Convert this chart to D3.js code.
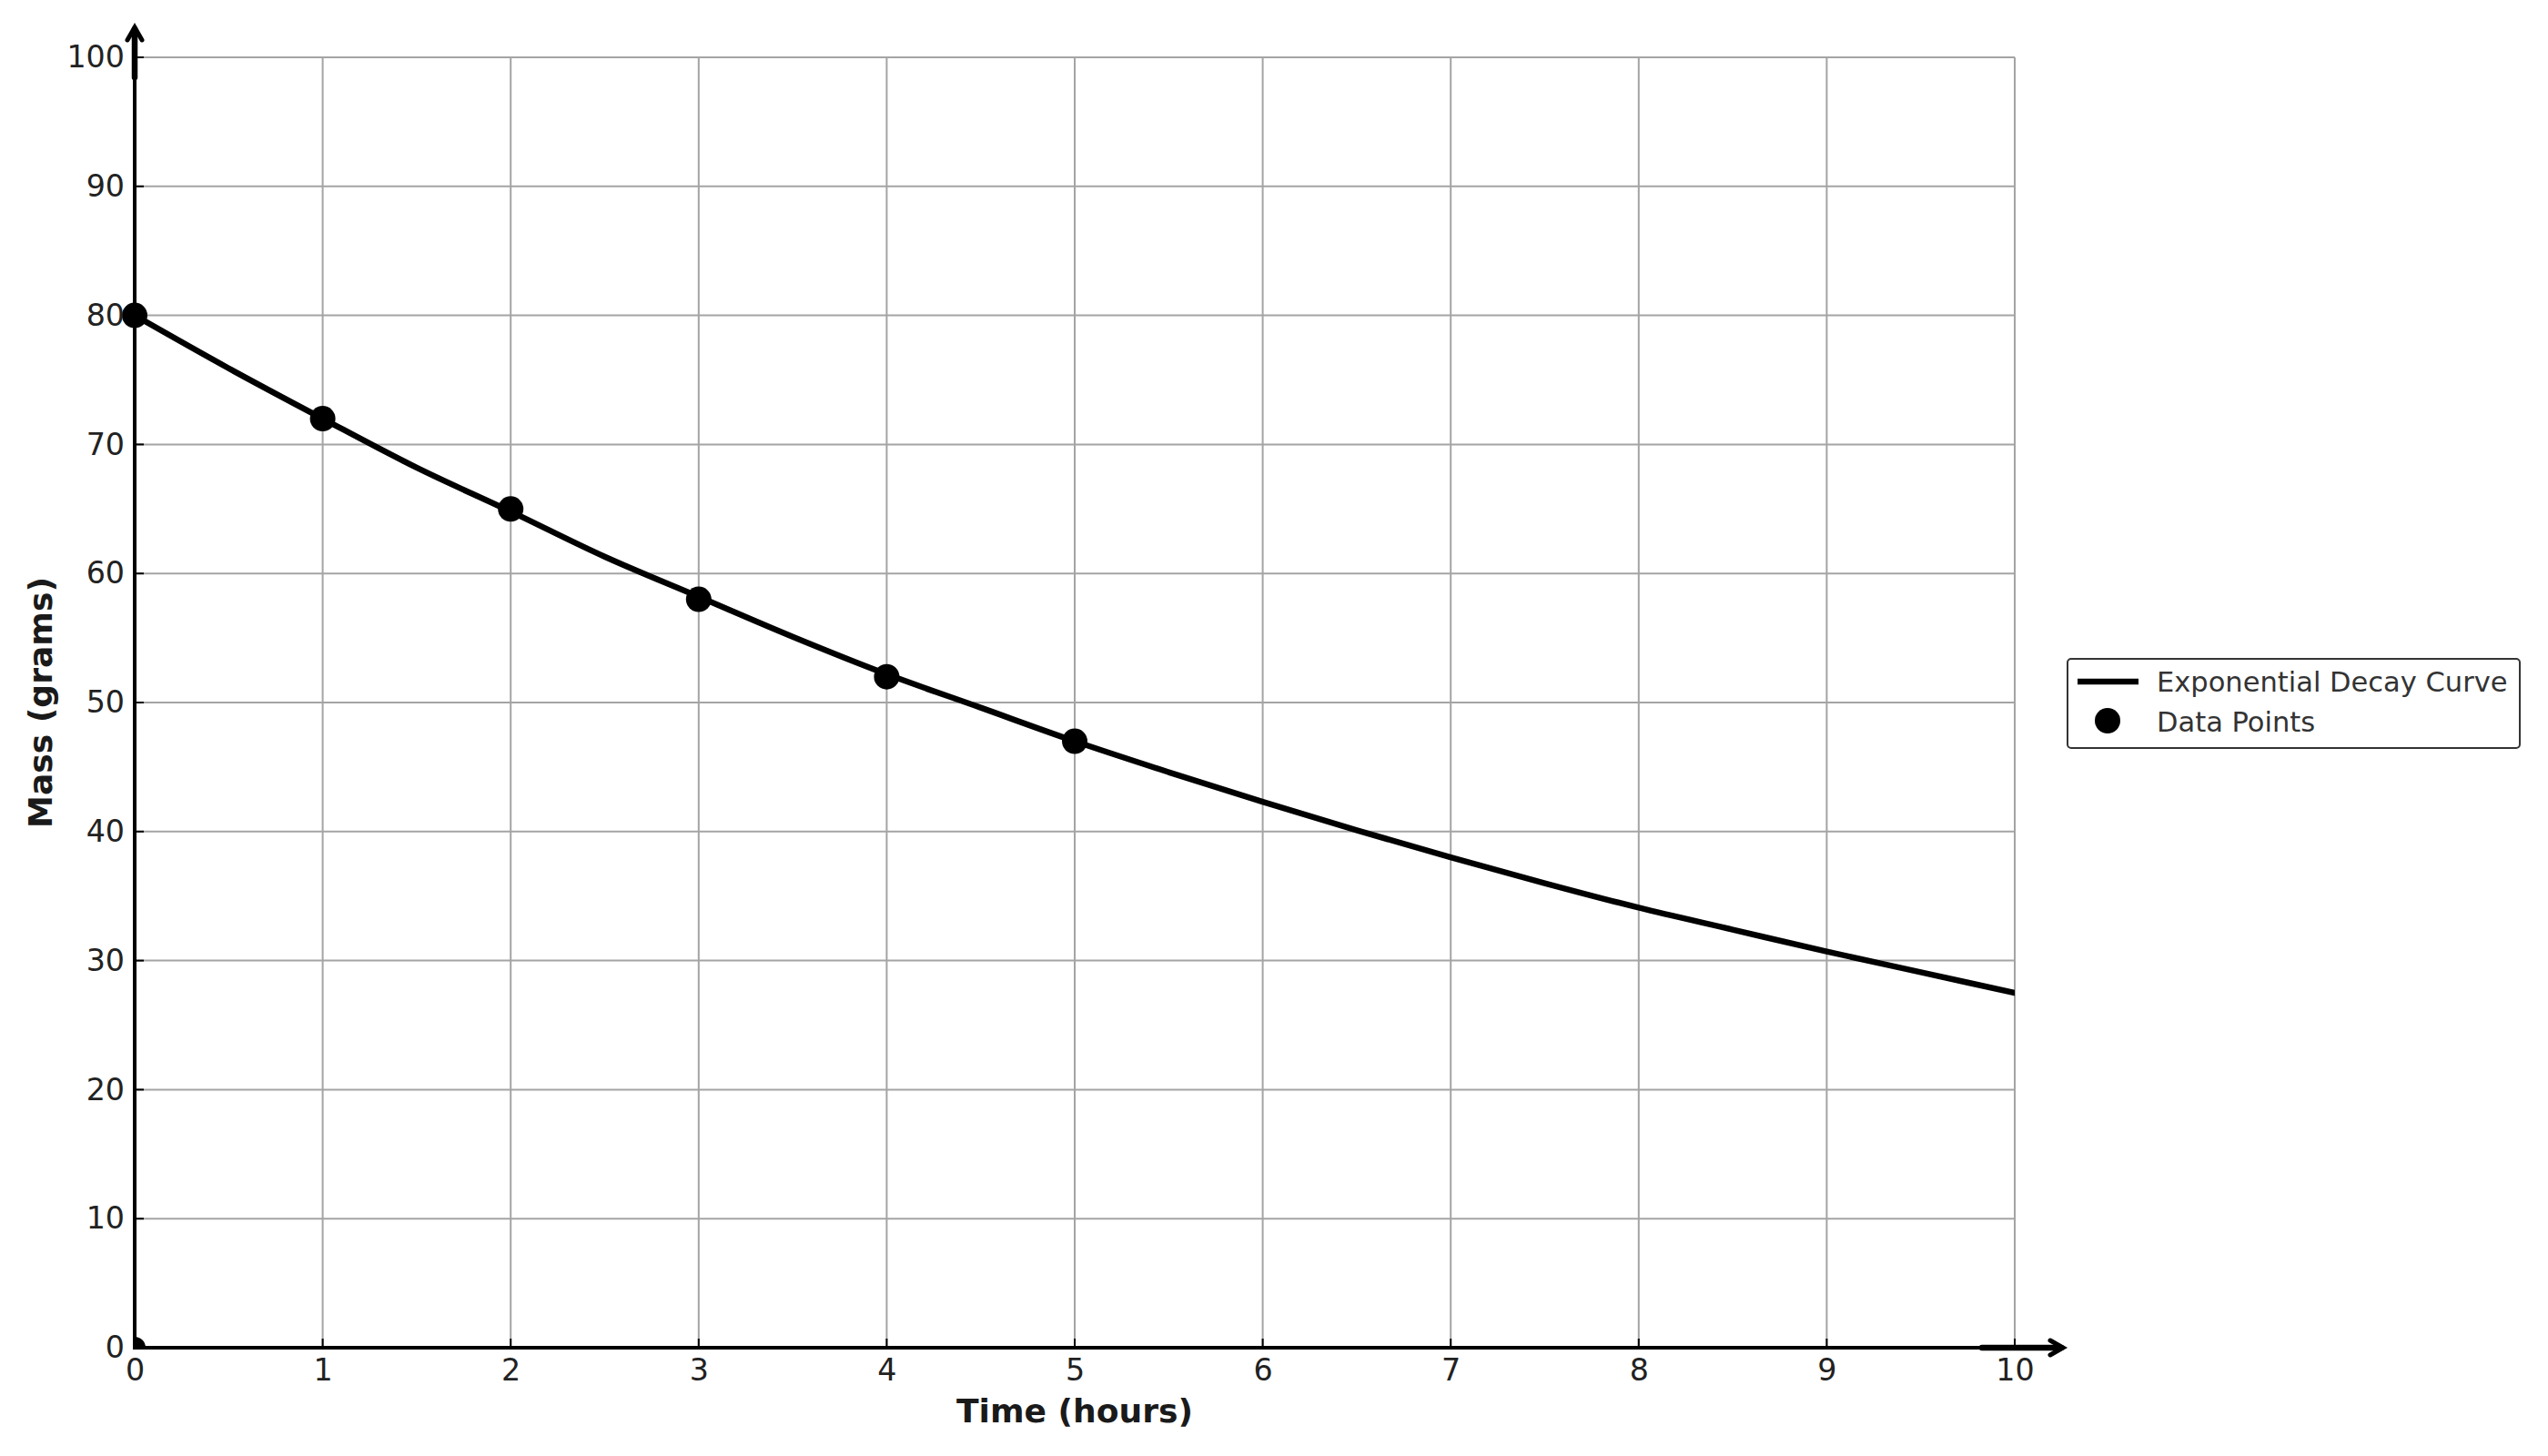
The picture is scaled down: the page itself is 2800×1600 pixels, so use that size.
<!DOCTYPE html>
<html>
<head>
<meta charset="utf-8">
<script src="https://cdn.jsdelivr.net/npm/d3@7"></script>
<style>
  html, body { margin: 0; padding: 0; background: #ffffff; }
  svg { display: block; }
  text { font-family: "DejaVu Sans", sans-serif; }
</style>
</head>
<body>
<svg id="chart" width="2800" height="1600"></svg>
<script>
// ---- data ----
const dataTimes = [0, 1, 2, 3, 4, 5];
const dataMass = [80, 72, 65, 58, 52, 47];
const curveTimes = [0, 0.5, 1, 1.5, 2, 2.5, 3, 3.5, 4, 4.5, 5, 5.5, 6, 6.5, 7, 7.5, 8, 8.5, 9, 9.5, 10];
const curveMass = [80, 75.9, 72, 68.2, 64.8, 61.3, 58.2, 55.1, 52.2, 49.6, 47, 44.6, 42.3, 40.1, 38, 36, 34.1, 32.4, 30.7, 29.1, 27.5];
const xTicks = [0, 1, 2, 3, 4, 5, 6, 7, 8, 9, 10];
const yTicks = [0, 10, 20, 30, 40, 50, 60, 70, 80, 90, 100];
const xLabel = "Time (hours)";
const yLabel = "Mass (grams)";
const legendLabels = ["Exponential Decay Curve", "Data Points"];

// ---- layout ----
const L = 148, R = 2214, T = 63, B = 1481;
const svg = d3.select("#chart");
const x = d3.scaleLinear().domain([0, 10]).range([L, R]);
const y = d3.scaleLinear().domain([0, 100]).range([B, T]);

// grid
const grid = svg.append("g");
grid.selectAll("line.gx").data(xTicks).join("line")
  .attr("x1", d => x(d)).attr("x2", d => x(d))
  .attr("y1", T).attr("y2", B)
  .attr("stroke", "#a4a4a4").attr("stroke-width", 2);
grid.selectAll("line.gy").data(yTicks).join("line")
  .attr("x1", L).attr("x2", R)
  .attr("y1", d => y(d)).attr("y2", d => y(d))
  .attr("stroke", "#a4a4a4").attr("stroke-width", 2);

// clip for data
svg.append("clipPath").attr("id", "clip")
  .append("rect").attr("x", L).attr("y", T).attr("width", R - L).attr("height", B - T);

// origin clipped dot
svg.append("circle").attr("clip-path", "url(#clip)")
  .attr("cx", x(0)).attr("cy", y(0)).attr("r", 12).attr("fill", "#000");

// curve
const line = d3.line().x((d, i) => x(curveTimes[i])).y(d => y(d)).curve(d3.curveMonotoneX);
svg.append("path").datum(curveMass)
  .attr("d", line).attr("fill", "none").attr("stroke", "#000")
  .attr("stroke-width", 6.5).attr("stroke-linejoin", "round").attr("stroke-linecap", "square")
  .attr("clip-path", "url(#clip)");

// data points
svg.append("g").selectAll("circle").data(dataMass).join("circle")
  .attr("cx", (d, i) => x(dataTimes[i])).attr("cy", d => y(d))
  .attr("r", 14).attr("fill", "#000");

// axes using d3 axis
const xAxis = d3.axisBottom(x).tickValues(xTicks).tickSizeInner(0).tickSizeOuter(0).tickPadding(12).tickFormat(d3.format("d"));
const gx = svg.append("g").attr("transform", `translate(0,${B})`).call(xAxis);
gx.select(".domain").remove();
gx.selectAll("text").attr("font-size", 33.3).attr("fill", "#222").attr("font-family", "DejaVu Sans");
const yAxis = d3.axisLeft(y).tickValues(yTicks).tickSizeInner(0).tickSizeOuter(0).tickPadding(11).tickFormat(d3.format("d"));
const gy = svg.append("g").attr("transform", `translate(${L},0)`).call(yAxis);
gy.select(".domain").remove();
gy.selectAll("text").attr("font-size", 33.3).attr("fill", "#222").attr("font-family", "DejaVu Sans");

// inward tick marks
svg.append("g").selectAll("line").data(xTicks).join("line")
  .attr("x1", d => x(d)).attr("x2", d => x(d)).attr("y1", B).attr("y2", B - 10)
  .attr("stroke", "#000").attr("stroke-width", 2);
svg.append("g").selectAll("line").data(yTicks).join("line")
  .attr("x1", L).attr("x2", L + 10).attr("y1", d => y(d)).attr("y2", d => y(d))
  .attr("stroke", "#000").attr("stroke-width", 2);

// spines
svg.append("line").attr("x1", L).attr("x2", L).attr("y1", T + 22).attr("y2", B + 2)
  .attr("stroke", "#000").attr("stroke-width", 4);
svg.append("line").attr("x1", L - 2).attr("x2", R - 36).attr("y1", B).attr("y2", B)
  .attr("stroke", "#000").attr("stroke-width", 4);

// arrows
svg.append("line").attr("x1", L).attr("x2", L).attr("y1", 85).attr("y2", 32)
  .attr("stroke", "#000").attr("stroke-width", 6.5).attr("stroke-linecap", "round");
svg.append("path").attr("d", `M${L - 8},${44} L${L},${30} L${L + 8},${44}`)
  .attr("fill", "none").attr("stroke", "#000").attr("stroke-width", 5)
  .attr("stroke-linecap", "round").attr("stroke-linejoin", "miter");
svg.append("line").attr("x1", 2178).attr("x2", 2265).attr("y1", B).attr("y2", B)
  .attr("stroke", "#000").attr("stroke-width", 6.5).attr("stroke-linecap", "round");
svg.append("path").attr("d", `M${2253},${B - 8} L${2267},${B} L${2253},${B + 8}`)
  .attr("fill", "none").attr("stroke", "#000").attr("stroke-width", 5)
  .attr("stroke-linecap", "round").attr("stroke-linejoin", "miter");

// axis labels
svg.append("text").attr("x", (L + R) / 2).attr("y", 1563)
  .attr("text-anchor", "middle").attr("font-size", 36.1).attr("font-weight", "bold")
  .attr("fill", "#1a1a1a").text(xLabel);
svg.append("text").attr("transform", `translate(57,${(T + B) / 2}) rotate(-90)`)
  .attr("text-anchor", "middle").attr("font-size", 36.1).attr("font-weight", "bold")
  .attr("fill", "#1a1a1a").text(yLabel);

// legend
const lg = svg.append("g");
lg.append("rect").attr("x", 2272).attr("y", 724).attr("width", 497).attr("height", 98)
  .attr("rx", 4).attr("fill", "#fff").attr("stroke", "#333").attr("stroke-width", 2);
lg.append("line").attr("x1", 2283).attr("x2", 2350).attr("y1", 749).attr("y2", 749)
  .attr("stroke", "#000").attr("stroke-width", 6.5);
lg.append("circle").attr("cx", 2316).attr("cy", 792).attr("r", 14).attr("fill", "#000");
lg.selectAll("text").data(legendLabels).join("text")
  .attr("x", 2370).attr("y", (d, i) => 760 + i * 44)
  .attr("font-size", 30.5).attr("fill", "#333").text(d => d);
</script>
</body>
</html>
